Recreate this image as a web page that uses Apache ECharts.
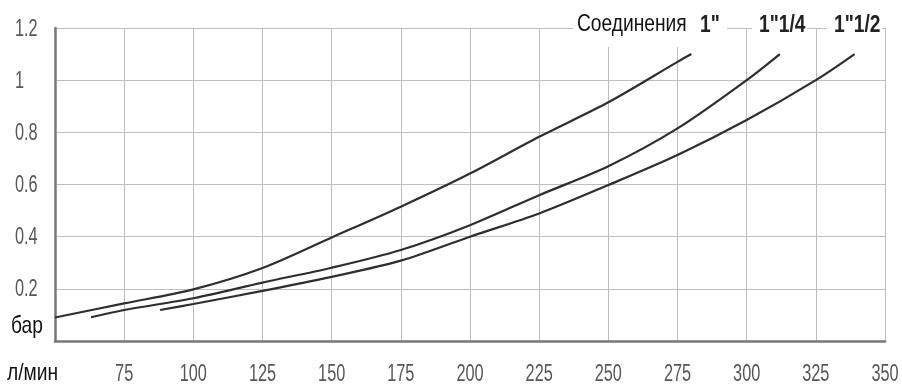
<!DOCTYPE html>
<html>
<head>
<meta charset="utf-8">
<script src="https://cdn.jsdelivr.net/npm/echarts@6/dist/echarts.min.js"></script>
<style>
  html, body { margin: 0; padding: 0; background: #fff; }
  #chart { width: 902px; height: 387px; }
</style>
</head>
<body>
<div id="chart"></div>
<script>
// flow, l/min and pressure loss, bar
const flow1 = [50, 75, 100, 125, 150, 175, 200, 225, 250, 275, 280];
const bar1 = [0.09, 0.144, 0.198, 0.28, 0.397, 0.515, 0.642, 0.783, 0.915, 1.07, 1.1];
const flow2 = [63, 75, 100, 125, 150, 175, 200, 225, 250, 275, 300, 312];
const bar2 = [0.091, 0.119, 0.164, 0.224, 0.281, 0.349, 0.444, 0.559, 0.67, 0.815, 1.0, 1.1];
const flow3 = [88, 100, 125, 150, 175, 200, 225, 250, 275, 300, 325, 339];
const bar3 = [0.119, 0.142, 0.192, 0.246, 0.308, 0.4, 0.489, 0.598, 0.713, 0.847, 1.0, 1.1];
const seriesNames = ['1"', '1"1/4', '1"1/2'];
const xTicks = [75, 100, 125, 150, 175, 200, 225, 250, 275, 300, 325, 350];
const yTicks = [0.2, 0.4, 0.6, 0.8, 1, 1.2];
const legendTitle = "Соединения";
const xUnit = "л/мин";
const yUnit = "бар";

// the source uses a condensed face; squeeze Liberation Sans to match
const face = '"Liberation Sans", Arial, sans-serif';

function pairs(xs, ys) {
  return xs.map((x, i) => [x, ys[i]]);
}

const chart = echarts.init(document.getElementById("chart"));

function curve(name, xs, ys) {
  return {
    name: name,
    type: "line",
    data: pairs(xs, ys),
    smooth: 0.3,
    showSymbol: false,
    lineStyle: { width: 2.2, color: "#2e2e2e" },
    itemStyle: { color: "#2e2e2e" }
  };
}

chart.setOption({
  backgroundColor: "#fff",
  animation: false,
  grid: { left: 55, right: 17, top: 28, bottom: 46 },
  xAxis: {
    type: "value",
    min: 50,
    max: 350,
    interval: 25,
    axisLine: { show: true, lineStyle: { color: "#777", width: 2.5 } },
    axisTick: { show: false },
    axisLabel: { show: false },
    splitLine: { show: true, lineStyle: { color: "#bdbdbd", width: 1 } }
  },
  yAxis: {
    type: "value",
    min: 0,
    max: 1.2,
    interval: 0.2,
    axisLine: { show: true, lineStyle: { color: "#777", width: 2.5 } },
    axisTick: { show: false },
    axisLabel: { show: false },
    splitLine: { show: true, lineStyle: { color: "#bdbdbd", width: 1 } }
  },
  series: [
    curve(seriesNames[0], flow1, bar1),
    curve(seriesNames[1], flow2, bar2),
    curve(seriesNames[2], flow3, bar3)
  ]
});

function label(text, x, y, opts) {
  return {
    type: "text",
    z: 101,
    x: x,
    y: y,
    scaleX: opts.scaleX,
    style: {
      text: text,
      fill: opts.fill,
      font: opts.font,
      align: opts.align || "center",
      verticalAlign: "middle"
    }
  };
}

const tickStyle = { fill: "#575757", font: "24px " + face, scaleX: 0.68 };
const plainStyle = { fill: "#111", font: "24px " + face, scaleX: 0.8, align: "left" };
const boldStyle = { fill: "#222", font: "bold 24px " + face, scaleX: 0.8, align: "left" };

const graphics = [
  { type: "rect", z: 100, shape: { x: 573, y: 8, width: 154, height: 39 }, style: { fill: "#fff" } },
  { type: "rect", z: 100, shape: { x: 752, y: 8, width: 55, height: 32 }, style: { fill: "#fff" } },
  { type: "rect", z: 100, shape: { x: 827, y: 8, width: 55, height: 32 }, style: { fill: "#fff" } },
  label(legendTitle, 577, 24, plainStyle),
  label(seriesNames[0], 700, 25, boldStyle),
  label(seriesNames[1], 759, 25, boldStyle),
  label(seriesNames[2], 834, 25, boldStyle),
  label(yUnit, 11, 326, plainStyle),
  label(xUnit, 7, 373, plainStyle)
];

xTicks.forEach(v => {
  const p = chart.convertToPixel({ gridIndex: 0 }, [v, 0]);
  graphics.push(label(String(v), p[0], p[1] + 33, tickStyle));
});
yTicks.forEach(v => {
  const p = chart.convertToPixel({ gridIndex: 0 }, [50, v]);
  graphics.push(label(String(v), 15, p[1] + 1, Object.assign({}, tickStyle, { align: "left" })));
});

chart.setOption({ graphic: graphics });

window.addEventListener("resize", () => chart.resize());
</script>
</body>
</html>
